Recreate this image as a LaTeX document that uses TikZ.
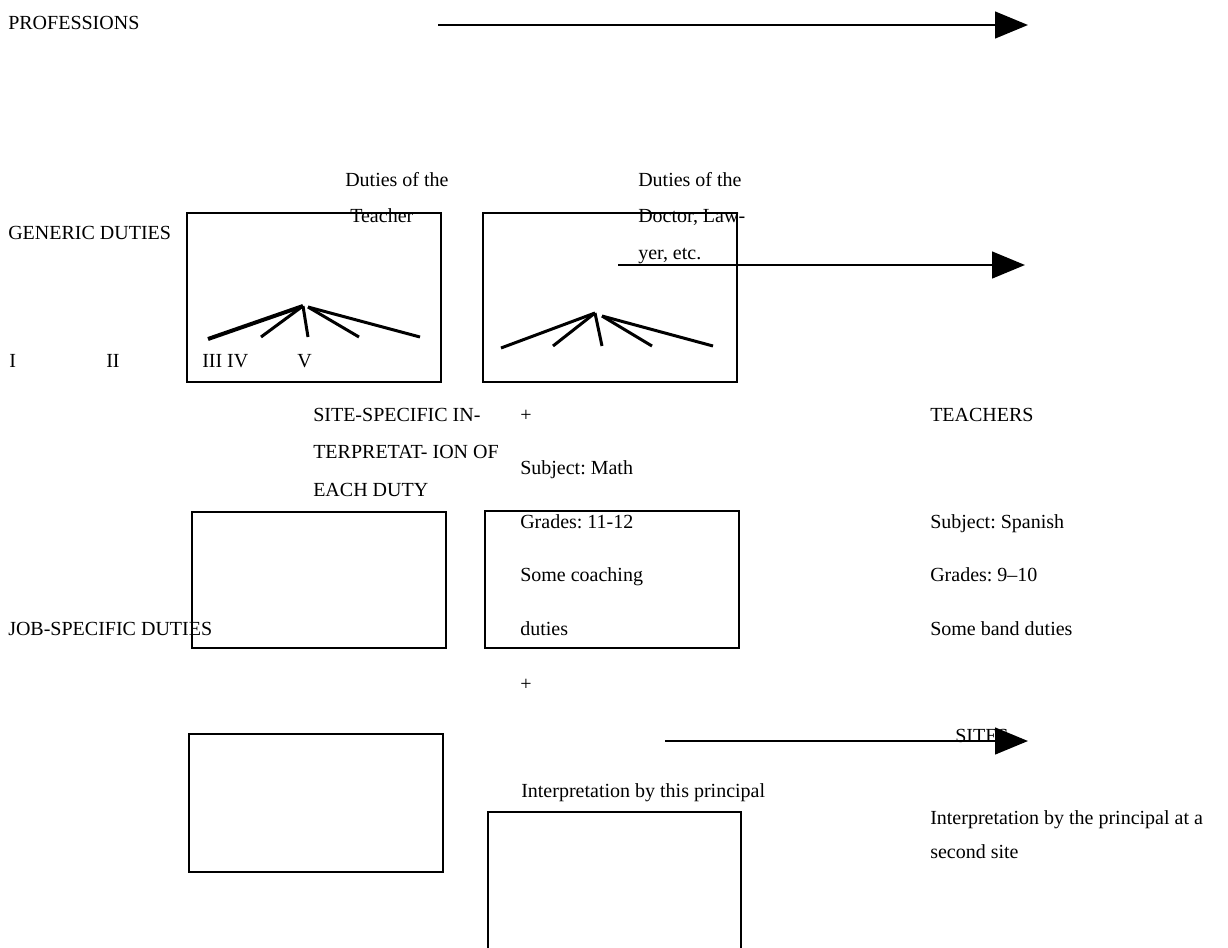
\documentclass[tikz,border=0pt]{standalone}
\usepackage{fontspec}
\setmainfont{Liberation Serif}
\usetikzlibrary{arrows.meta}
\frenchspacing
\tikzset{
  txt/.style={anchor=base west, inner sep=0pt, font=\fontsize{15}{18}\selectfont},
  axis/.style={line width=1.9pt, -{Triangle[length=24.75pt,width=20pt]}},
  dutybox/.style={line width=2.1pt},
  fan/.style={line width=2.25pt},
}
\begin{document}
\begin{tikzpicture}[x=0.75pt,y=-0.75pt]
\useasboundingbox (0,0) rectangle (1228,947);
\clip (0,0) rectangle (1228,947);

\node [] (p0) at (438, 25) {};
\node [] (p1) at (1028, 25) {};
\node [] (g0) at (618, 265) {};
\node [] (g1) at (1025, 265) {};
\node [] (s0) at (665, 741) {};
\node [] (s1) at (1028, 741) {};

% row labels
\node [txt] (prof) at (8, 29) {PROFESSIONS};
\node [txt] (gen) at (8, 239) {GENERIC DUTIES};
\node [txt] (job) at (8, 635) {JOB-SPECIFIC DUTIES};
\node [txt] (n1) at (9, 367) {I};
\node [txt] (n2) at (106, 367) {II};
\node [txt] (n34) at (202, 367) {III IV};
\node [txt] (n5) at (297, 367) {V};

% boxes
\draw [dutybox] (187, 213) rectangle (441, 382);
\draw [dutybox] (483, 213) rectangle (737, 382);
\draw [dutybox] (192, 512) rectangle (446, 648);
\draw [dutybox] (485, 511) rectangle (739, 648);
\draw [dutybox] (189, 734) rectangle (443, 872);
\draw [dutybox] (488, 812) rectangle (741, 965);

% fans
\draw [fan, line width=3pt] (303, 306) -- (208, 339);
\draw [fan] (303, 306) -- (261, 337);
\draw [fan] (303, 306) -- (308, 337);
\draw [fan] (308, 307) -- (359, 337);
\draw [fan] (308, 307) -- (420, 337);

\draw [fan] (595, 313) -- (501, 348);
\draw [fan] (595, 313) -- (553, 346);
\draw [fan] (595, 313) -- (602, 346);
\draw [fan] (602, 316) -- (652, 346);
\draw [fan] (602, 316) -- (713, 346);

% arrows
\draw [axis] (p0.center) to (p1.center);
\draw [axis] (g0.center) to (g1.center);
\draw [axis] (s0.center) to (s1.center);

\node [txt] (t1) at (345, 186) {Duties of the};
\node [txt] (t2) at (350, 222) {Teacher};
\node [txt] (d1) at (638, 186) {Duties of the};
\node [txt] (d2) at (638, 222) {Doctor, Law-};
\node [txt] (d3) at (638, 259) {yer, etc.};

\node [txt] (ss1) at (313, 421) {SITE-SPECIFIC IN-};
\node [txt] (ss2) at (313, 458) {TERPRETAT- ION OF};
\node [txt] (ss3) at (313, 496) {EACH DUTY};

\node [txt] (plus1) at (520, 421) {+};
\node [txt] (m1) at (520, 474) {Subject: Math};
\node [txt] (m2) at (520, 528) {Grades: 11-12};
\node [txt] (m3) at (520, 581) {Some coaching};
\node [txt] (m4) at (520, 635) {duties};
\node [txt] (plus2) at (520, 690) {+};

\node [txt] (tch) at (930, 421) {TEACHERS};
\node [txt] (sp1) at (930, 528) {Subject: Spanish};
\node [txt] (sp2) at (930, 581) {Grades: 9–10};
\node [txt] (sp3) at (930, 635) {Some band duties};

\node [txt] (sites) at (955, 742) {SITES};
\node [txt] (ip1) at (521, 797) {Interpretation by this principal};
\node [txt] (ip2) at (930, 824) {Interpretation by the principal at a};
\node [txt] (ip3) at (930, 858) {second site};
\end{tikzpicture}
\end{document}
